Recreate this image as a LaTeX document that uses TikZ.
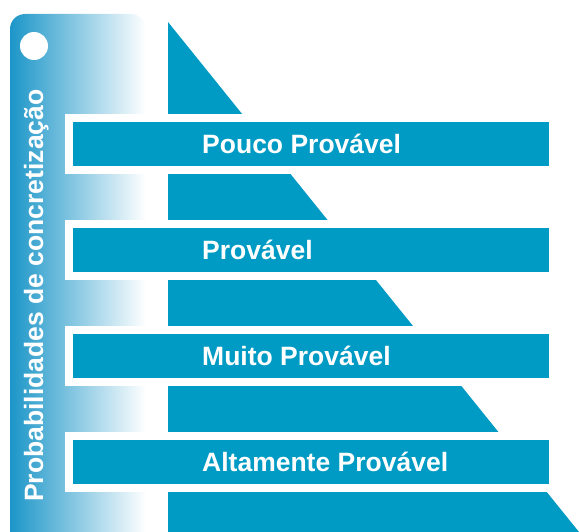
\documentclass[tikz,border=0pt]{standalone}
\usepackage{fontspec}
\setmainfont{Liberation Sans}
\definecolor{barblue}{RGB}{0,155,196}
\definecolor{panelblue}{RGB}{28,150,200}
\tikzset{
  bar/.style={preaction={draw=white,line width=16pt},fill=barblue,draw=none,
    minimum width=476pt,minimum height=44pt,inner sep=0pt,outer sep=0pt,anchor=north west},
  lbl/.style={text=white,font=\bfseries\fontsize{26.5}{30}\selectfont,inner sep=0pt,anchor=base west},
}
\begin{document}
\begin{tikzpicture}[x=1pt,y=-1pt]
\useasboundingbox (0,0) rectangle (579,532);
% left gradient panel
\shade[left color=panelblue,right color=white]
  (10,532) {[rounded corners=15pt] -- (10,14) -- (146,14)} -- (146,532) -- cycle;
\node[circle,fill=white,minimum size=28pt,inner sep=0pt] (dot) at (34,46) {};
\node[lbl,rotate=90] (side) at (43,502) {Probabilidades de concretização};
% big triangle
\fill[barblue] (168,22) -- (168,532) -- (579,532) -- cycle;
% bars
\node[bar] (b1) at (73,122) {};
\node[bar] (b2) at (73,228) {};
\node[bar] (b3) at (73,334) {};
\node[bar] (b4) at (73,440) {};
\node[lbl] (t1) at (202,153.5) {Pouco Provável};
\node[lbl] (t2) at (202,259.5) {Provável};
\node[lbl] (t3) at (202,365.5) {Muito Provável};
\node[lbl] (t4) at (202,471.5) {Altamente Provável};
\end{tikzpicture}
\end{document}
